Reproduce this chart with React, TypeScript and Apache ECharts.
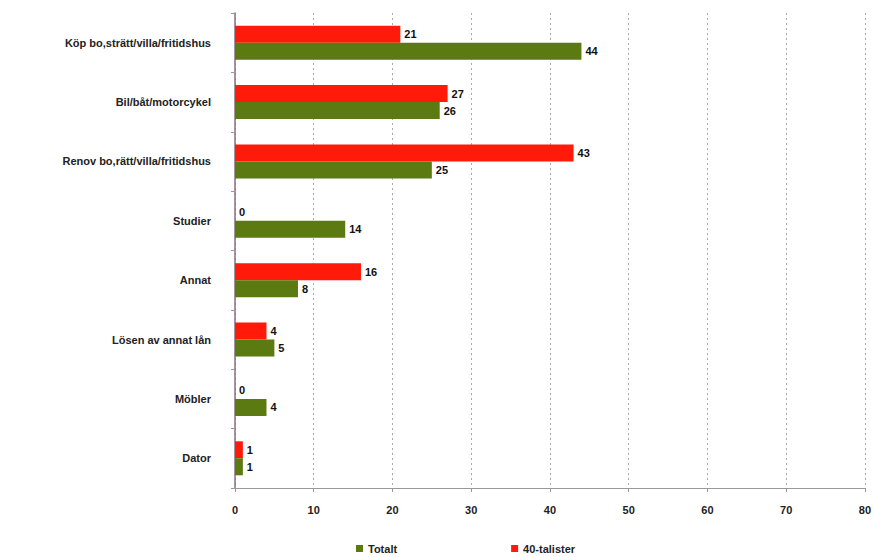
import React, { useEffect, useRef } from "react";
import * as echarts from "echarts";

const categories = [
  "Köp bo,strätt/villa/fritidshus",
  "Bil/båt/motorcykel",
  "Renov bo,rätt/villa/fritidshus",
  "Studier",
  "Annat",
  "Lösen av annat lån",
  "Möbler",
  "Dator",
];
const totalt = [44, 26, 25, 14, 8, 5, 4, 1];
const fyrtiotalister = [21, 27, 43, 0, 16, 4, 0, 1];
const xTicks = [0, 10, 20, 30, 40, 50, 60, 70, 80];

const FONT = "'Liberation Sans', Arial, sans-serif";

export default function App() {
  const ref = useRef<HTMLDivElement>(null);
  useEffect(() => {
    if (!ref.current) return;
    const chart = echarts.init(ref.current, null, { renderer: "svg" });
    const label = {
      show: true,
      position: "right" as const,
      distance: 4,
      color: "#111",
      fontFamily: FONT,
      fontWeight: "bold" as const,
      fontSize: 11,
    };
    chart.setOption({
      animation: false,
      backgroundColor: "#fff",
      grid: { left: 235, right: 9, top: 13, height: 475, containLabel: false },
      legend: {
        data: ["Totalt", "40-talister"],
        left: 356,
        top: 543,
        padding: 0,
        itemWidth: 7,
        itemHeight: 7,
        itemGap: 114,
        icon: "rect",
        textStyle: { fontFamily: FONT, fontWeight: "bold", fontSize: 11, color: "#222" },
      },
      xAxis: {
        type: "value",
        min: xTicks[0],
        max: xTicks[xTicks.length - 1],
        interval: 10,
        axisLine: { show: true, lineStyle: { color: "#999" } },
        axisTick: { show: true, length: 4, lineStyle: { color: "#999" } },
        axisLabel: { fontFamily: FONT, fontWeight: "bold", fontSize: 11, color: "#222", margin: 16 },
        splitLine: { show: true, lineStyle: { color: "#aaa", type: [2, 3] } },
      },
      yAxis: {
        type: "category",
        data: categories,
        inverse: true,
        axisLine: { show: true, lineStyle: { color: "#8a6e80", width: 1.5 } },
        axisTick: { show: true, length: 4, lineStyle: { color: "#999" } },
        axisLabel: { fontFamily: FONT, fontWeight: "bold", fontSize: 11, color: "#222", margin: 24 },
      },
      series: [
        {
          name: "40-talister",
          type: "bar",
          data: fyrtiotalister,
          barWidth: 17,
          barGap: "0%",
          itemStyle: { color: "#ff1a0a" },
          label,
        },
        {
          name: "Totalt",
          type: "bar",
          data: totalt,
          barWidth: 17,
          barGap: "0%",
          itemStyle: { color: "#5b7a12" },
          label,
        },
      ],
    });
    return () => chart.dispose();
  }, []);
  return <div ref={ref} style={{ width: 874, height: 557, position: "absolute", left: 0, top: 0 }} />;
}
